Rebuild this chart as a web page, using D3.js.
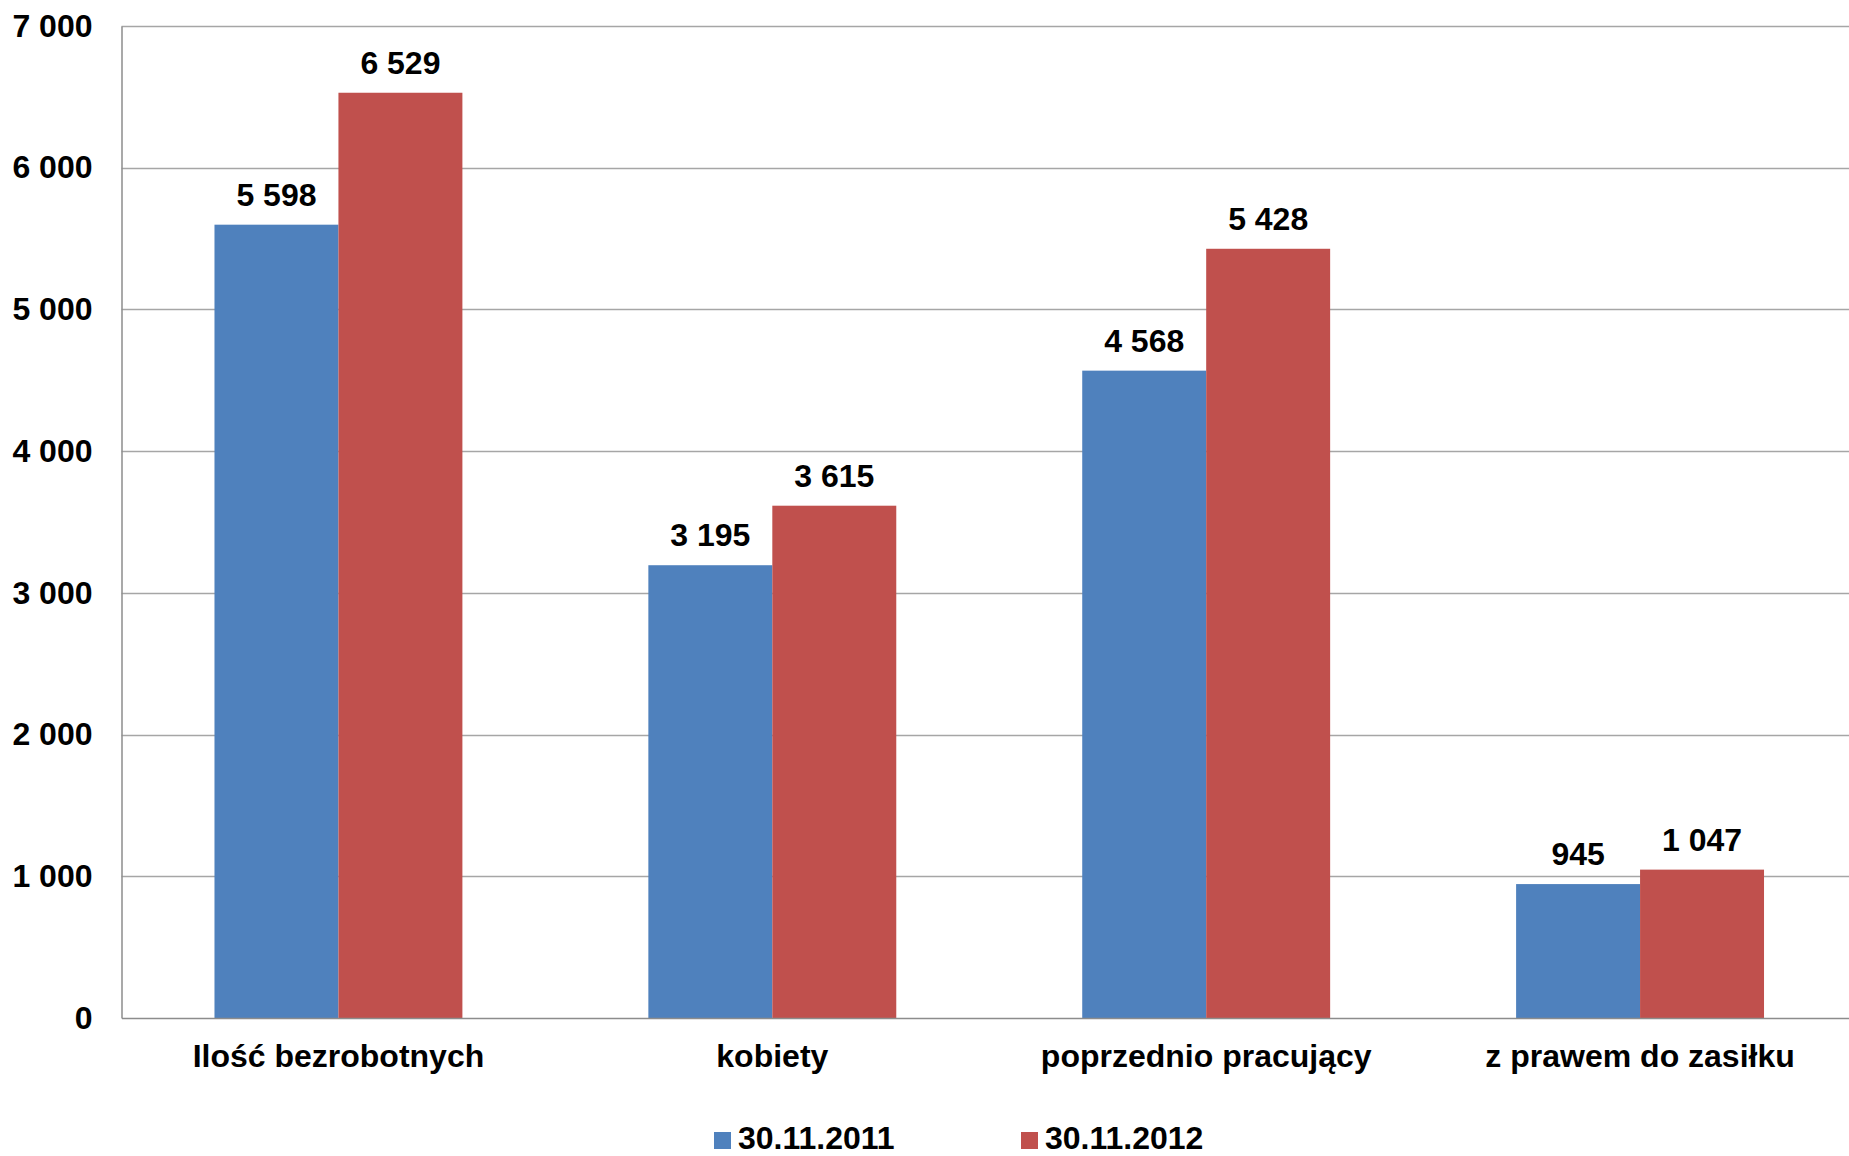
<!DOCTYPE html>
<html>
<head>
<meta charset="utf-8">
<script src="https://cdn.jsdelivr.net/npm/d3@7"></script>
<style>
  body { margin: 0; background: #fff; overflow: hidden; }
  text { font-family: "Liberation Sans", Arial, sans-serif; font-weight: bold; fill: #000; }
</style>
</head>
<body>
<svg></svg>
<script>
// Chart data
let categories = ['Ilość bezrobotnych', 'kobiety', 'poprzednio pracujący', 'z prawem do zasiłku'];
let seriesNames = ['30.11.2011', '30.11.2012'];
let values2011 = [5598, 3195, 4568, 945];
let values2012 = [6529, 3615, 5428, 1047];
let yTicks = [0, 1000, 2000, 3000, 4000, 5000, 6000, 7000];
let colors = ['#4F81BD', '#C0504D'];

// SVG dimensions
let width = 1849, height = 1156;
let plotLeft = 121.5, plotRight = 1857, plotTop = 26, plotBottom = 1018;

let svg = d3.select('svg')
    .attr('width', width)
    .attr('height', height);

// number format with space as thousands separator
let fmt = d3.formatLocale({ decimal: ',', thousands: ' ', grouping: [3], currency: ['', ''] }).format(',d');

// Scales
let xScale = d3.scaleBand()
    .domain(categories)
    .range([plotLeft, plotRight])
    .paddingInner(0.4286)
    .paddingOuter(0.2143);

let xSub = d3.scaleBand()
    .domain(seriesNames)
    .range([0, xScale.bandwidth()]);

let yScale = d3.scaleLinear()
    .domain([0, 7000])
    .range([plotBottom, plotTop]);

// Gridlines
svg.append('g')
    .selectAll('line')
    .data(yTicks.filter(d => d > 0))
    .enter()
    .append('line')
    .attr('x1', plotLeft)
    .attr('x2', plotRight)
    .attr('y1', d => Math.round(yScale(d)) + 0.5)
    .attr('y2', d => Math.round(yScale(d)) + 0.5)
    .attr('stroke', '#a6a6a6')
    .attr('stroke-width', 1.5);

// Y axis
let yAxis = d3.axisLeft(yScale)
    .tickValues(yTicks)
    .tickSize(0)
    .tickPadding(29)
    .tickFormat(fmt);
let yG = svg.append('g')
    .attr('transform', `translate(${plotLeft}, 0)`)
    .call(yAxis);
yG.select('.domain').attr('stroke', '#8c8c8c').attr('stroke-width', 1.5);
yG.selectAll('text')
    .attr('font-size', 32)
    .attr('font-family', '"Liberation Sans", Arial, sans-serif')
    .attr('font-weight', 'bold')
    .attr('fill', '#000');

// Bars
let series = [values2011, values2012];
let groups = svg.append('g')
    .selectAll('g')
    .data(series)
    .enter()
    .append('g')
    .attr('fill', (d, i) => colors[i]);

groups.selectAll('rect')
    .data((d, i) => d.map((v, j) => ({ v: v, cat: categories[j], s: seriesNames[i] })))
    .enter()
    .append('rect')
    .attr('x', d => xScale(d.cat) + xSub(d.s))
    .attr('y', d => yScale(d.v))
    .attr('width', xSub.bandwidth())
    .attr('height', d => yScale(0) - yScale(d.v));

// Value labels
groups.selectAll('text')
    .data((d, i) => d.map((v, j) => ({ v: v, cat: categories[j], s: seriesNames[i] })))
    .enter()
    .append('text')
    .attr('x', d => xScale(d.cat) + xSub(d.s) + xSub.bandwidth() / 2)
    .attr('y', d => yScale(d.v) - 19)
    .attr('text-anchor', 'middle')
    .attr('font-size', 32)
    .text(d => fmt(d.v));

// X axis
let xAxis = d3.axisBottom(xScale).tickSize(0).tickPadding(26);
let xG = svg.append('g')
    .attr('transform', `translate(0, ${plotBottom})`)
    .call(xAxis);
xG.select('.domain').attr('stroke', '#8c8c8c').attr('stroke-width', 1.5);
xG.selectAll('text')
    .attr('font-size', 32)
    .attr('font-family', '"Liberation Sans", Arial, sans-serif')
    .attr('font-weight', 'bold')
    .attr('fill', '#000');

// Legend (kept just inside the bottom edge)
let legend = svg.append('g')
    .selectAll('g')
    .data(seriesNames)
    .enter()
    .append('g')
    .attr('transform', (d, i) => `translate(${714 + i * 307}, 1149)`);

legend.append('rect')
    .attr('x', 0)
    .attr('y', -17)
    .attr('width', 17)
    .attr('height', 17)
    .attr('fill', (d, i) => colors[i]);

legend.append('text')
    .attr('x', 24)
    .attr('y', 0)
    .attr('font-size', 32)
    .text(d => d);
</script>
</body>
</html>
